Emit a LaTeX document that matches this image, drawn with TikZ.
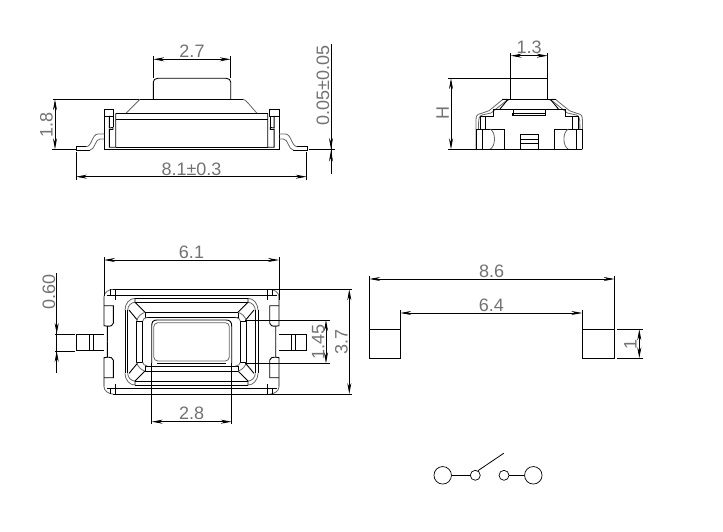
\documentclass[tikz,border=0pt]{standalone}
\usepackage{fontspec}
\setmainfont{Liberation Sans}
\usepackage{xcolor}
\usetikzlibrary{arrows.meta}
\tikzset{part/.style={draw,line width=0.9pt}}
\tikzset{soft/.style={draw,line width=0.8pt,black!60}}
\tikzset{ext/.style={draw,line width=0.8pt}}
\tikzset{dim/.style={draw,line width=0.8pt,<->}}
\tikzset{lbl/.style={inner sep=0pt,text=black!55,font=\fontsize{18}{18}\selectfont}}
\tikzset{contact/.style={circle,draw,line width=0.7pt,inner sep=0pt}}
\tikzset{mirfront/.style={xshift=383.4pt,xscale=-1}}
\tikzset{mirside/.style={xshift=1058.4pt,xscale=-1}}
\tikzset{
  frontend/.pic={
    \draw[part] (104.3,116) rectangle (113.7,109.3);
    \draw[part] (104.3,116) -- (104.3,149.3) -- (191.7,149.3);
    \draw[part] (109.3,116) -- (109.3,128) -- (113,127.5) -- (113,129.5) -- (109.3,129.5) -- (109.3,147.3) -- (115.7,147.3) -- (115.7,113.3);
    \draw[part] (113,116) -- (113,127.5);
    \draw[soft] (104.3,134) -- (98,134) .. controls (92,134) and (92,146.7) .. (86,146.7);
    \draw[part] (86,146.7) -- (76,146.7) -- (76,150) -- (90,150);
    \draw[soft] (90,150) .. controls (95,150) and (95,139) .. (100,139) -- (104.3,139);
  },
  sideend/.pic={
    \draw[soft] (507,99.3) -- (503,99.3) -- (489,110.7) -- (481,113.5) .. controls (477,114) and (476,116) .. (476,120) -- (476,149.3);
    \draw[soft] (510,99.3) -- (506,101) -- (491,113) -- (482,115) .. controls (479,116) and (478.5,118) .. (478.5,129);
    \draw[part] (508,99.3) -- (500,109);
    \draw[part] (529.2,109) -- (493.3,109) -- (493.3,116) -- (480,116) -- (480,129);
    \draw[part] (513,109) -- (513,113.5);
    \draw[part] (485.7,116) -- (485.7,129);
    \draw[part] (476.7,129) -- (504.3,129) -- (504.3,149.3);
    \draw[part] (482.3,129) -- (482.3,149.3);
    \draw[soft] (490,129) .. controls (496,132) and (496,146) .. (490,149.3);
    \draw[part] (476,129) -- (476,149.3);
  },
  planquarter/.pic={
    \draw[soft] (-87.5,-45) .. controls (-87.5,-49) and (-83,-52.4) .. (-78.2,-52.4);
    \draw[part] (-78.2,-52.4) -- (0,-52.4);
    \draw[part] (-87.5,-45) -- (-87.5,-16) -- (-84.2,-15.5) -- (-84.2,0);
    \draw[part] (-87.5,-36) -- (-78.2,-36) -- (-78.2,-18.5) .. controls (-78.2,-16) and (-81,-15.5) .. (-84.2,-15.5);
    \draw[part] (-80.8,-52.4) -- (-80.8,-46.7);
    \draw[part] (-75.8,-52.4) -- (-75.8,-42);
    \draw[part] (-85,-46.7) -- (0,-46.7);
    \draw[part] (-66.5,-31.7) -- (-66.5,0);
    \draw[part] (-63.8,-31.7) -- (-63.8,0);
    \draw[soft] (-66.5,-31.7) .. controls (-66.5,-38) and (-62,-43.4) .. (-56.5,-43.4);
    \draw[soft] (-63.8,-31.7) .. controls (-63.8,-36) and (-60,-39.4) .. (-56.5,-39.4);
    \draw[part] (-56.5,-43.4) -- (0,-43.4);
    \draw[part] (-56.5,-39.4) -- (0,-39.4);
    \draw[part] (-56.5,-43.4) -- (-56.5,-39.4) -- (-46.5,-29.4);
    \draw[part] (-62.5,-31.7) -- (-54.2,-21.7);
    \draw[part] (-46.5,-29.4) -- (0,-29.4);
    \draw[part] (-46.5,-29.4) -- (-46.5,-24.4) -- (0,-24.4);
    \draw[part] (-54.8,0) -- (-54.8,-20.7) -- (-48.8,-20.7) -- (-48.8,0);
    \draw[soft] (-54.8,-20.7) .. controls (-54,-25) and (-50,-28.5) .. (-46.5,-29.4);
    \draw[soft] (-48.8,-20.7) .. controls (-48.5,-22.5) and (-47,-24) .. (-44,-24.4);
  }
}
\begin{document}
\begin{tikzpicture}[x=1pt,y=-1pt,>={Stealth[length=11pt,width=4pt]}]
    \useasboundingbox (0,0) rectangle (723,532);
    \fill[white] (0,0) rectangle (723,532);

    \pic {frontend};
    \pic[mirfront] {frontend};
    \draw[part] (153.3,99.3) -- (153.3,82) .. controls (153.3,80) and (155,78.3) .. (158,78.3) -- (226,78.3) .. controls (229,78.3) and (230.7,80) .. (230.7,82) -- (230.7,99.3);
    \draw[part] (53,99.3) -- (243,99.3);
    \draw[soft] (140,99.3) -- (126,113.3);
    \draw[soft] (243,99.3) .. controls (246,100) and (247,102) .. (257,113.3);
    \draw[part] (115.7,113.3) -- (267.7,113.3);
    \draw[part] (115.7,119.3) -- (267.7,119.3);
    \draw[part] (115.7,147.3) -- (267.7,147.3);
    \draw[ext] (153.3,56) -- (153.3,78.3);
    \draw[ext] (230.7,56) -- (230.7,78.3);
    \draw[dim] (153.3,59.3) -- (230.7,59.3);
    \node[lbl] (lbltop) at (192,51.7) {2.7};
    \draw[ext] (52,149.3) -- (76,149.3);
    \draw[dim] (55,99.3) -- (55,149.3);
    \node[lbl,rotate=90] (lblheight) at (46.5,125) {1.8};
    \draw[ext] (76,152) -- (76,180);
    \draw[ext] (306.7,152) -- (306.7,180);
    \draw[dim] (76,176.7) -- (306.7,176.7);
    \node[lbl] (lbllen) at (191.5,169) {8.1±0.3};
    \draw[ext] (331,44) -- (331,174);
    \draw[line width=1.4pt] (308.7,149.6) -- (335,149.6);
    \draw[ext,->] (331,137) -- (331,149);
    \draw[ext,->] (331,162) -- (331,150.5);
    \node[lbl,rotate=90] (lbltol) at (323,85.5) {0.05±0.05};

    \pic {sideend};
    \pic[mirside] {sideend};
    \draw[part] (510.7,99.3) -- (510.7,78.3);
    \draw[part] (547.7,99.3) -- (547.7,78.3);
    \draw[part] (448,78.3) -- (547.7,78.3);
    \draw[part] (502,99.3) -- (556.4,99.3);
    \draw[line width=1.3pt,fill=white] (513,113.5) rectangle (545.4,115.7);
    \draw[part] (448,149.3) -- (581.7,149.3);
    \draw[part] (520,134.3) rectangle (538.4,149.8);
    \draw[part] (520,139) -- (538.4,139);
    \draw[part] (520,143.3) -- (538.4,143.3);
    \draw[ext] (510.7,53) -- (510.7,78.3);
    \draw[ext] (547.7,53) -- (547.7,78.3);
    \draw[dim] (510.7,55.7) -- (547.7,55.7);
    \node[lbl] (lblwide) at (529.2,47.5) {1.3};
    \draw[dim] (451,78.3) -- (451,149.3);
    \node[lbl,rotate=90] (lblh) at (442.7,113.5) {H};

    \pic at (191.5,341.7) {planquarter};
    \pic[xscale=-1] at (191.5,341.7) {planquarter};
    \pic[yscale=-1] at (191.5,341.7) {planquarter};
    \pic[xscale=-1,yscale=-1] at (191.5,341.7) {planquarter};
    \draw[part] (104,334) -- (76.7,334) -- (76.7,350.7) -- (104,350.7);
    \draw[part] (89.3,334) -- (89.3,350.7);
    \draw[part] (93.3,334) -- (93.3,350.7);
    \draw[part] (279.3,334) -- (306.7,334) -- (306.7,350.7) -- (279.3,350.7);
    \draw[part] (291.7,334) -- (291.7,350.7);
    \draw[part] (295,334) -- (295,350.7);
    \draw[part] (151.7,363.3) -- (151.7,326) .. controls (151.7,322) and (153,320) .. (157,320) -- (226,320) .. controls (230,320) and (231.7,322) .. (231.7,326) -- (231.7,363.3);
    \draw[part] (157,363.3) -- (226,363.3);
    \draw[soft,rounded corners=4pt] (153.8,322.7) rectangle (229.3,361);
    \draw[ext] (104,257) -- (104,296);
    \draw[ext] (279,257) -- (279,300);
    \draw[dim] (104,260) -- (279,260);
    \node[lbl] (lblbody) at (191.5,252.7) {6.1};
    \draw[ext] (55,334) -- (75,334);
    \draw[ext] (55,351) -- (75,351);
    \draw[ext] (56.7,273.3) -- (56.7,373);
    \draw[ext,->] (56.7,321.7) -- (56.7,334);
    \draw[ext,->] (56.7,363.5) -- (56.7,351);
    \node[lbl,rotate=90] (lblpin) at (49,291.7) {0.60};
    \draw[ext] (245,320) -- (330,320);
    \draw[ext] (245,363.3) -- (330,363.3);
    \draw[dim] (326,320) -- (326,363.3);
    \node[lbl,rotate=90] (lblwin) at (318.3,341.7) {1.45};
    \draw[ext] (268,289.3) -- (352,289.3);
    \draw[ext] (268,394) -- (352,394);
    \draw[dim] (349.3,289.3) -- (349.3,394);
    \node[lbl,rotate=90] (lbldepth) at (341.5,341.7) {3.7};
    \draw[ext] (151.7,363.3) -- (151.7,424);
    \draw[ext] (231.7,363.3) -- (231.7,424);
    \draw[dim] (151.7,421.7) -- (231.7,421.7);
    \node[lbl] (lblcap) at (191.7,413.3) {2.8};

    \draw[part] (369.3,329.3) rectangle (400.3,358.3);
    \draw[part] (582.3,329.3) rectangle (614.6,358.3);
    \draw[ext] (369.3,275.7) -- (369.3,329.3);
    \draw[ext] (614.6,275.7) -- (614.6,329.3);
    \draw[dim] (369.3,279) -- (614.6,279);
    \node[lbl] (lblpitch) at (491.7,271) {8.6};
    \draw[ext] (400.3,310) -- (400.3,329.3);
    \draw[ext] (582.3,310) -- (582.3,329.3);
    \draw[dim] (400.3,313) -- (582.3,313);
    \node[lbl] (lblgap) at (491.3,305.7) {6.4};
    \draw[ext] (616.5,329.3) -- (642.7,329.3);
    \draw[ext] (616.5,358.3) -- (642.7,358.3);
    \draw[dim] (639.3,329.3) -- (639.3,358.3);
    \node[lbl,rotate=90] (lblpad) at (630.5,344) {1};

    \node[contact,minimum size=17.5pt] (swa) at (442.7,475.3) {};
    \node[contact,minimum size=10pt] (swb) at (475.3,475.3) {};
    \node[contact,minimum size=10pt] (swc) at (504,475.3) {};
    \node[contact,minimum size=17.5pt] (swd) at (533.3,475.3) {};
    \coordinate (swtip) at (503.7,453.3);
    \draw[ext] (swa) -- (swb);
    \draw[ext] (swc) -- (swd);
    \draw[ext] (swb.60) -- (swtip);
\end{tikzpicture}
\end{document}
